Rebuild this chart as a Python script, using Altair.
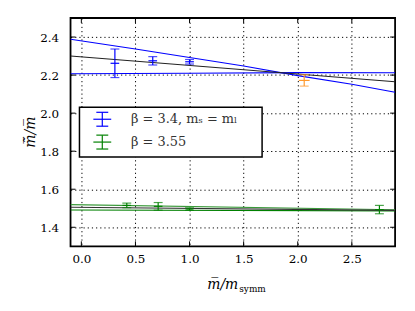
import altair as alt
import pandas as pd

# ---- data ----
x_ticks = [0.0, 0.5, 1.0, 1.5, 2.0, 2.5]
y_ticks = [1.4, 1.6, 1.8, 2.0, 2.2, 2.4]

pt_series = ["b34", "b34", "b34", "orange", "g355", "g355", "g355", "g355"]
pt_x = [0.31, 0.66, 1.0, 2.06, 0.42, 0.71, 1.0, 2.755]
pt_y = [2.262, 2.275, 2.27, 2.172, 1.515, 1.51, 1.496, 1.493]
pt_yerr = [0.075, 0.022, 0.012, 0.03, 0.012, 0.02, 0.006, 0.022]
pt_xerr = [0.04, 0.04, 0.04, 0.05, 0.04, 0.04, 0.03, 0.04]

blue_hi_x = [-0.1, 0.5, 1.0, 1.5, 2.0, 2.5, 2.9]
blue_hi_y = [2.388, 2.337, 2.292, 2.248, 2.197, 2.152, 2.11]
blue_lo_x = [-0.1, 1.0, 2.0, 2.9]
blue_lo_y = [2.207, 2.21, 2.213, 2.212]
blue_fit_x = [-0.1, 2.9]
blue_fit_y = [2.30, 2.165]
green_hi_x = [-0.1, 2.9]
green_hi_y = [1.519, 1.492]
green_lo_x = [-0.1, 2.9]
green_lo_y = [1.491, 1.486]
green_fit_x = [-0.1, 2.9]
green_fit_y = [1.505, 1.489]

legend_labels = ["β = 3.4, mₛ = mₗ", "β = 3.55"]

# ---- styling ----
BLUE = "#0000ff"
GREEN = "#008000"
ORANGE = "#ff9a2e"
FONT = "DejaVu Serif"
W, H = 327, 230

series_domain = ["b34", "orange", "g355"]
series_range = [BLUE, ORANGE, GREEN]

pts = pd.DataFrame({
    "series": pt_series, "x": pt_x, "y": pt_y,
    "ylo": [y - e for y, e in zip(pt_y, pt_yerr)],
    "yhi": [y + e for y, e in zip(pt_y, pt_yerr)],
    "xlo": [x - e for x, e in zip(pt_x, pt_xerr)],
    "xhi": [x + e for x, e in zip(pt_x, pt_xerr)],
})

line_rows = []
for name, xv_, yv_ in [("blue_hi", blue_hi_x, blue_hi_y), ("blue_lo", blue_lo_x, blue_lo_y),
                       ("blue_fit", blue_fit_x, blue_fit_y), ("green_hi", green_hi_x, green_hi_y),
                       ("green_lo", green_lo_x, green_lo_y), ("green_fit", green_fit_x, green_fit_y)]:
    for xv, yv in zip(xv_, yv_):
        line_rows.append({"line": name, "x": xv, "y": yv})
lines_df = pd.DataFrame(line_rows)

xs = alt.Scale(domain=[-0.1, 2.9], nice=False, zero=False)
ys = alt.Scale(domain=[1.3, 2.5], nice=False, zero=False)

x_axis = alt.Axis(values=x_ticks, format=".1f", title=None, grid=True, ticks=False, domain=False,
                  labelFont=FONT, labelFontSize=12, labelColor="black", labelPadding=7,
                  gridColor="black", gridDash=[1.2, 3], gridOpacity=1, gridWidth=1)
y_axis = alt.Axis(values=y_ticks, format=".1f", title=None, grid=True, ticks=False, domain=False,
                  labelFont=FONT, labelFontSize=12, labelColor="black", labelPadding=12,
                  gridColor="black", gridDash=[1.2, 3], gridOpacity=1, gridWidth=1)

base = alt.Chart(pd.DataFrame({"x": x_ticks})).mark_point(opacity=0).encode(
    x=alt.X("x:Q", scale=xs, axis=x_axis))
base_y = alt.Chart(pd.DataFrame({"y": y_ticks})).mark_point(opacity=0).encode(
    y=alt.Y("y:Q", scale=ys, axis=y_axis))

xt = pd.DataFrame({"x": x_ticks})
yt = pd.DataFrame({"y": y_ticks})
ticks = [
    alt.Chart(xt).mark_rule(color="black", strokeWidth=1).encode(
        x=alt.X("x:Q", scale=xs), y=alt.value(H), y2=alt.value(H - 5)),
    alt.Chart(xt).mark_rule(color="black", strokeWidth=1).encode(
        x=alt.X("x:Q", scale=xs), y=alt.value(0), y2=alt.value(5)),
    alt.Chart(yt).mark_rule(color="black", strokeWidth=1).encode(
        y=alt.Y("y:Q", scale=ys), x=alt.value(0), x2=alt.value(5)),
    alt.Chart(yt).mark_rule(color="black", strokeWidth=1).encode(
        y=alt.Y("y:Q", scale=ys), x=alt.value(W), x2=alt.value(W - 5)),
]

line_colors = alt.Color("line:N", legend=None, scale=alt.Scale(
    domain=["blue_hi", "blue_lo", "blue_fit", "green_hi", "green_lo", "green_fit"],
    range=[BLUE, BLUE, "#222222", "#3a9a3a", GREEN, "#333333"]))
lines = alt.Chart(lines_df).mark_line(strokeWidth=1.1, clip=True).encode(
    x=alt.X("x:Q", scale=xs), y=alt.Y("y:Q", scale=ys), color=line_colors, detail="line:N")

col = alt.Color("series:N", legend=None, scale=alt.Scale(domain=series_domain, range=series_range))
vbar = alt.Chart(pts).mark_rule(strokeWidth=1.2).encode(
    x=alt.X("x:Q", scale=xs), y=alt.Y("ylo:Q", scale=ys), y2="yhi:Q", color=col)
hbar = alt.Chart(pts).mark_rule(strokeWidth=1.2).encode(
    y=alt.Y("y:Q", scale=ys), x=alt.X("xlo:Q", scale=xs), x2="xhi:Q", color=col)
cap_lo = alt.Chart(pts).mark_tick(orient="horizontal", size=9, thickness=1.2).encode(
    x=alt.X("x:Q", scale=xs), y=alt.Y("ylo:Q", scale=ys), color=col)
cap_hi = alt.Chart(pts).mark_tick(orient="horizontal", size=9, thickness=1.2).encode(
    x=alt.X("x:Q", scale=xs), y=alt.Y("yhi:Q", scale=ys), color=col)
points_layer = alt.layer(vbar, hbar, cap_lo, cap_hi)

# ---- legend (drawn by hand, matplotlib style) ----
def rule(x1, x2, y1, y2, color, w=1.2):
    return alt.Chart(pd.DataFrame({"a": [0]})).mark_rule(color=color, strokeWidth=w).encode(
        x=alt.value(x1), x2=alt.value(x2), y=alt.value(y1), y2=alt.value(y2))

legend_box = alt.Chart(pd.DataFrame({"a": [0]})).mark_rect(
    fill="white", stroke="black", strokeWidth=1.5).encode(
    x=alt.value(9), x2=alt.value(193), y=alt.value(90), y2=alt.value(140))

legend_parts = [legend_box]
for i, (lab, c) in enumerate(zip(legend_labels, [BLUE, GREEN])):
    cy = 102 + i * 23
    cx = 32
    legend_parts += [
        rule(cx, cx, cy - 7, cy + 7, c),
        rule(cx - 6, cx + 6, cy - 7, cy - 7, c),
        rule(cx - 6, cx + 6, cy + 7, cy + 7, c),
        rule(cx - 9, cx + 9, cy, cy, c),
        alt.Chart(pd.DataFrame({"t": [lab]})).mark_text(
            font=FONT, fontSize=13, color="#333333", align="left", baseline="middle"
        ).encode(text="t:N", x=alt.value(61), y=alt.value(cy)),
    ]

# ---- axis titles ----
def txt(s, x, y, size, angle=0, style="italic", align="center", baseline="alphabetic"):
    return alt.Chart(pd.DataFrame({"t": [s]})).mark_text(
        font=FONT, fontSize=size, fontStyle=style, color="black", align=align,
        baseline=baseline, angle=angle).encode(text="t:N", x=alt.value(x), y=alt.value(y))

titles = [
    txt("m\u0305/m", 169, 273, 14, align="right"),
    txt("symm", 170, 276, 9, style="normal", align="left"),
    txt("m\u0303\u0305/m\u0305", -40, 115, 14, angle=270, baseline="middle"),
]

chart = alt.layer(
    base, base_y, lines, points_layer, *ticks, *legend_parts, *titles
).resolve_scale(color="independent").properties(
    width=W, height=H,
    autosize=alt.AutoSizeParams(type="none"),
    padding={"left": 63, "top": 9, "right": 12, "bottom": 50},
).configure_view(stroke="black", strokeWidth=1.8)

chart.save("out.html", embed_options={"renderer": "svg", "actions": False})
